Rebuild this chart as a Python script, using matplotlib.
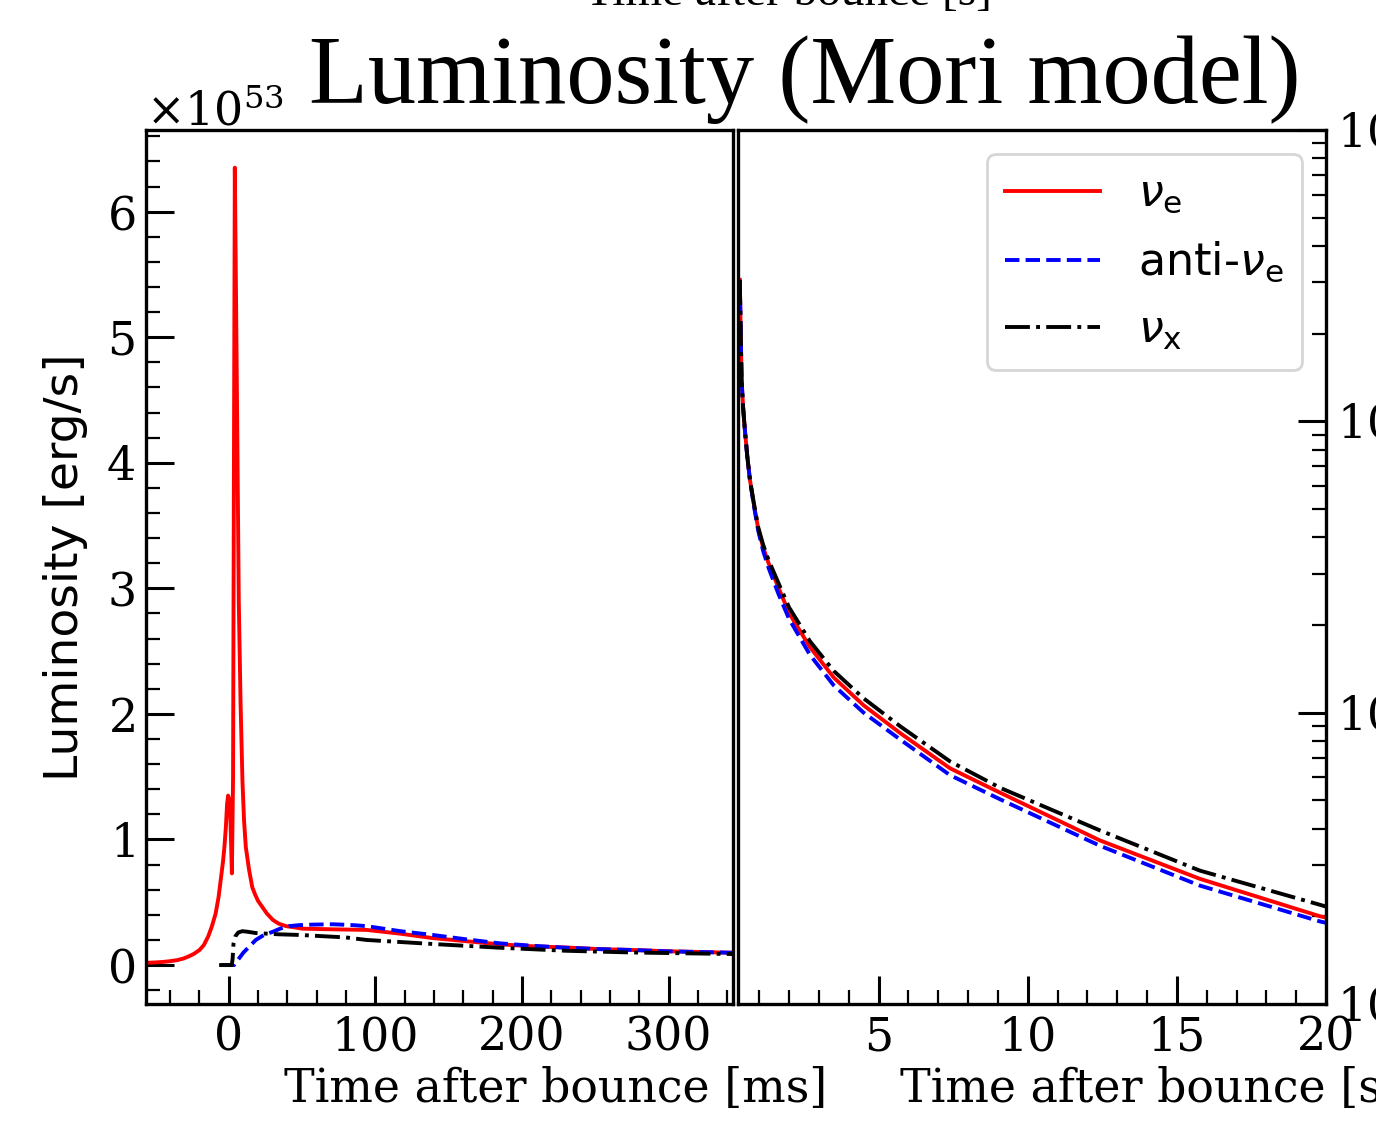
import numpy as np
import matplotlib
matplotlib.use('Agg')
import matplotlib.pyplot as plt
from matplotlib.font_manager import FontProperties
from matplotlib.ticker import MultipleLocator, LogLocator, ScalarFormatter, NullFormatter

plt.rcParams['font.family'] = 'DejaVu Serif'
plt.rcParams['mathtext.fontset'] = 'dejavuserif'

# ---- early phase, time after bounce [ms], luminosity [1e53 erg/s]
t_nue_ms = [-56.5, -50, -45, -40, -35, -31, -28, -24, -20, -17, -14, -11.5, -9, -7, -5.5, -4,
            -3, -2, -1.2, -0.5, 0.3, 1.0, 1.6, 2.1, 2.9, 3.5, 4.1, 5.5, 6.8, 8.0, 9.3, 10.4,
            11.6, 13.8, 16, 18, 20, 23, 26, 30, 34, 39, 45, 50, 70, 94, 117, 139, 162, 185,
            207, 230, 253, 276, 300, 344]
L_nue_ms = [0.018, 0.021, 0.025, 0.031, 0.04, 0.052, 0.066, 0.088, 0.12, 0.16, 0.23, 0.31, 0.41,
            0.54, 0.68, 0.82, 0.94, 1.1, 1.28, 1.35, 1.32, 1.2, 0.95, 0.73, 1.5, 4.0, 6.35, 4.6,
            2.9, 2.1, 1.47, 1.15, 0.94, 0.76, 0.62, 0.56, 0.51, 0.46, 0.41, 0.36, 0.33, 0.31,
            0.30, 0.29, 0.285, 0.28, 0.25, 0.215, 0.19, 0.165, 0.15, 0.14, 0.127, 0.12, 0.11,
            0.098]

t_anue_ms = [-5.5, 3.6, 10, 18.4, 24, 30, 35, 41, 48, 57, 71, 85, 94, 117, 139, 162, 185, 207,
             230, 253, 276, 298, 344]
L_anue_ms = [0, 0, 0.1, 0.2, 0.24, 0.265, 0.29, 0.31, 0.318, 0.322, 0.325, 0.318, 0.31, 0.27,
             0.24, 0.205, 0.173, 0.154, 0.138, 0.127, 0.12, 0.11, 0.098]

t_nux_ms = [-6.6, 2.0, 2.6, 3.2, 4.5, 6.5, 9.3, 13, 18.4, 34, 48, 80, 94, 139, 185, 230, 276, 344]
L_nux_ms = [0, 0, 0.05, 0.17, 0.23, 0.26, 0.27, 0.265, 0.255, 0.245, 0.24, 0.22, 0.2, 0.168,
            0.138, 0.114, 0.1, 0.088]

# ---- late phase, time after bounce [s], luminosity [erg/s]
t_late = [0.35, 0.38, 0.41, 0.46, 0.52, 0.6, 0.69, 0.82, 0.97, 1.13, 1.31, 1.65, 2.0, 2.7, 3.5,
          4.5, 5.74, 7.4, 9.08, 12.43, 15.77, 19.8, 20.0]
L_nue_late = [3.06e52, 2.06e52, 1.39e52, 1.12e52, 9.35e51, 7.6e51, 6.3e51, 5.2e51, 4.27e51,
              3.7e51, 3.27e51, 2.68e51, 2.2e51, 1.68e51, 1.32e51, 1.06e51, 8.49e50, 6.44e50,
              5.31e50, 3.64e50, 2.69e50, 2.0e50, 1.98e50]
L_anue_late = [3.06e52, 2.06e52, 1.39e52, 1.12e52, 9.35e51, 7.6e51, 6.3e51, 5.15e51, 4.2e51,
               3.6e51, 3.15e51, 2.55e51, 2.1e51, 1.58e51, 1.24e51, 1.0e51, 8.07e50, 6.1e50,
               5.04e50, 3.49e50, 2.55e50, 1.92e50, 1.9e50]
L_nux_late = [3.06e52, 2.06e52, 1.39e52, 1.12e52, 9.35e51, 7.6e51, 6.3e51, 5.25e51, 4.32e51,
              3.78e51, 3.35e51, 2.78e51, 2.3e51, 1.76e51, 1.39e51, 1.12e51, 8.96e50, 6.8e50,
              5.52e50, 3.94e50, 2.87e50, 2.19e50, 2.16e50]

labels = [r'$\nu_{\rm e}$', r'anti-$\nu_{\rm e}$', r'$\nu_{\rm x}$']

lw = 2.8
fs_tick = 33
fs_label = 33

fig = plt.figure(figsize=(13.76, 11.21), dpi=100)
ax1 = fig.add_axes([146/1376, 1 - 1004/1121, 587/1376, 874/1121])
ax2 = fig.add_axes([738/1376, 1 - 1004/1121, 588/1376, 874/1121])

ax1.plot(t_nue_ms, np.array(L_nue_ms) * 1e53, color='red', lw=lw, ls='-')
ax1.plot(t_anue_ms, np.array(L_anue_ms) * 1e53, color='blue', lw=lw, ls='--')
ax1.plot(t_nux_ms, np.array(L_nux_ms) * 1e53, color='black', lw=lw, ls='-.')

ax2.plot(t_late, L_nue_late, color='red', lw=lw, ls='-', label=labels[0])
ax2.plot(t_late, L_anue_late, color='blue', lw=lw, ls='--', label=labels[1])
ax2.plot(t_late, L_nux_late, color='black', lw=lw, ls='-.', label=labels[2])

ax1.set_xlim(-56.5, 344)
ax1.set_ylim(-0.31e53, 6.65e53)
ax1.xaxis.set_major_locator(MultipleLocator(100))
ax1.xaxis.set_minor_locator(MultipleLocator(20))
ax1.yaxis.set_major_locator(MultipleLocator(1e53))
ax1.yaxis.set_minor_locator(MultipleLocator(0.2e53))
fmt = ScalarFormatter(useMathText=True)
ax1.yaxis.set_major_formatter(fmt)
ax1.tick_params(which='both', direction='in', top=False, right=False, labelsize=fs_tick, pad=8)
ax1.tick_params(which='major', length=20, width=2.2)
ax1.tick_params(which='minor', length=10, width=1.6)
ax1.yaxis.get_offset_text().set_fontsize(fs_tick)
ax1.set_xlabel('Time after bounce [ms]', fontsize=fs_label)
ax1.xaxis.set_label_coords(0.697, -0.072)
ax1.set_ylabel('Luminosity [erg/s]', fontsize=34, family='DejaVu Sans', labelpad=13)

ax2.set_yscale('log')
ax2.set_xlim(0.29, 20)
ax2.set_ylim(1e50, 1e53)
ax2.xaxis.set_major_locator(MultipleLocator(5))
ax2.xaxis.set_minor_locator(MultipleLocator(1))
ax2.yaxis.set_major_locator(LogLocator(base=10))
ax2.yaxis.set_minor_locator(LogLocator(base=10, subs=np.arange(2, 10)))
ax2.yaxis.set_minor_formatter(NullFormatter())
ax2.yaxis.tick_right()
ax2.tick_params(which='both', direction='in', top=False, left=False, labelleft=False,
                right=True, labelright=True, labelsize=fs_tick, pad=8)
ax2.tick_params(which='major', length=20, width=2.2)
ax2.tick_params(which='minor', length=10, width=1.6)
ax2.set_xlabel('Time after bounce [s]', fontsize=fs_label)
ax2.xaxis.set_label_coords(0.70, -0.072)

for ax in (ax1, ax2):
    for sp in ax.spines.values():
        sp.set_linewidth(2.4)

leg_font = FontProperties(family='DejaVu Sans', size=32, math_fontfamily='dejavusans')
leg = ax2.legend(loc='upper right', prop=leg_font, handlelength=2.15, handletextpad=0.85,
                 labelspacing=0.55, borderaxespad=0.55, fancybox=True, framealpha=0.8)
leg.get_frame().set_linewidth(2.0)

fig.text(805/1376, 1 - 103/1121, 'Luminosity (Mori model)', family='Liberation Serif',
         fontsize=69.5, ha='center', va='baseline')
fig.text(788/1376, 1 - 5/1121, 'Time after bounce [s]', family='Liberation Serif',
         fontsize=34, ha='center', va='baseline')

fig.savefig('out.png', dpi=100)
